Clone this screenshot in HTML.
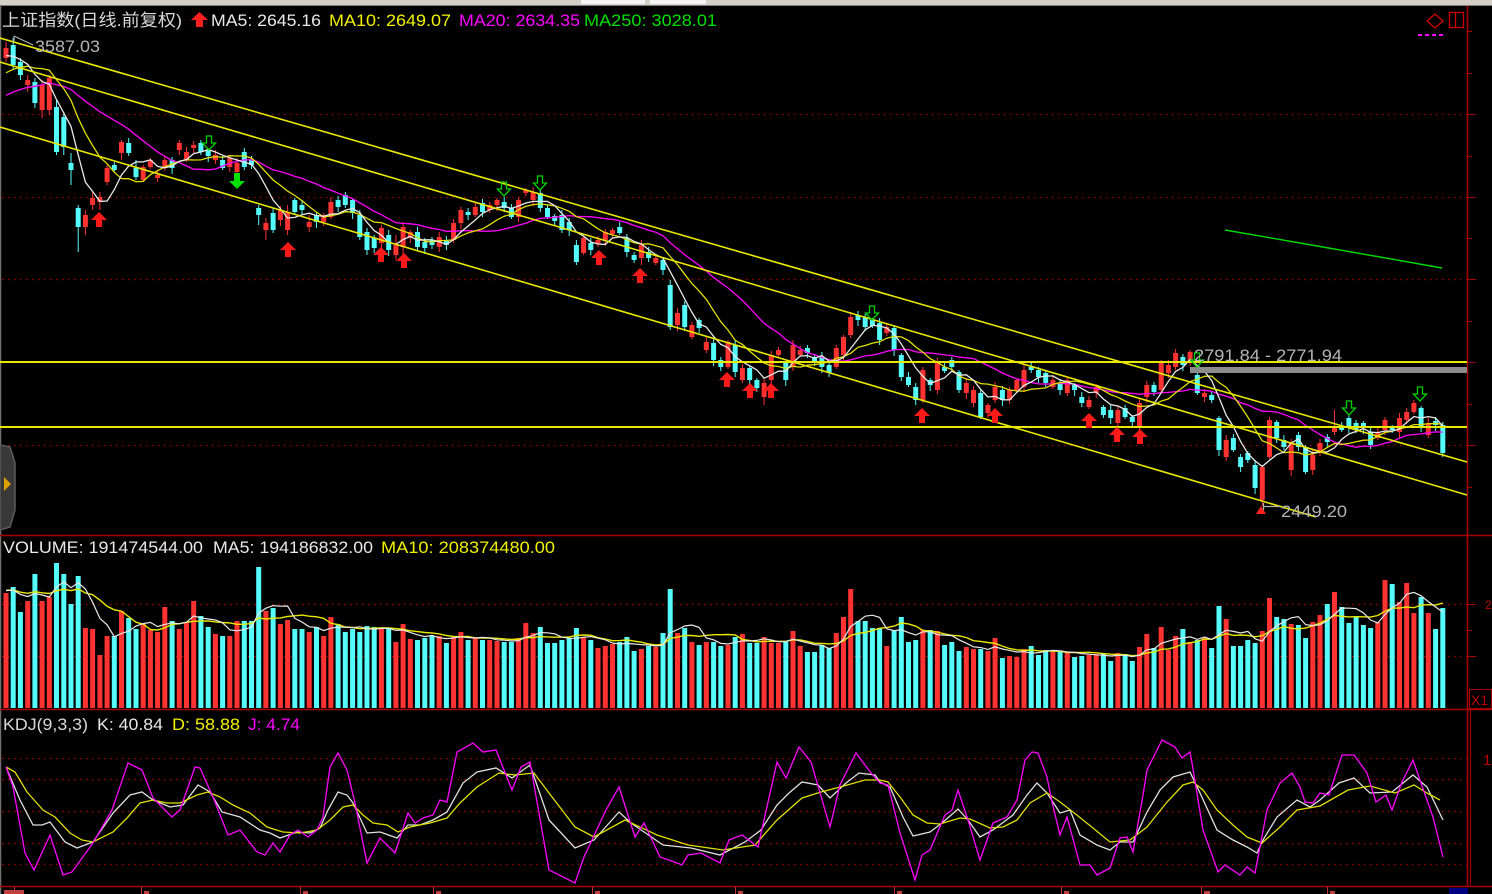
<!DOCTYPE html>
<html><head><meta charset="utf-8">
<style>
html,body{margin:0;padding:0;background:#000;width:1492px;height:894px;overflow:hidden}
svg{display:block}
text{font-family:"Liberation Sans","Noto Sans CJK SC",sans-serif;font-size:17px}
</style></head><body>
<svg id="s" width="1492" height="894" viewBox="0 0 1492 894" xmlns="http://www.w3.org/2000/svg">
<rect width="1492" height="894" fill="#000"/>
<!-- top strip -->
<rect x="0" y="0" width="1492" height="5" fill="#d4d0c8"/>
<rect x="581" y="0" width="64" height="4" fill="#f4f4f4"/>
<rect x="650" y="0" width="56" height="4" fill="#f4f4f4"/>
<line x1="0" y1="5.5" x2="1492" y2="5.5" stroke="#808080"/>
<line x1="0.5" y1="5" x2="0.5" y2="894" stroke="#707070" stroke-width="1.5"/>

<!-- dotted grid -->
<g stroke="#a00000" stroke-width="1.2" stroke-dasharray="1.5,4.5">
<line x1="2" y1="114.5" x2="1467" y2="114.5"/>
<line x1="2" y1="197.5" x2="1467" y2="197.5"/>
<line x1="2" y1="279.5" x2="1467" y2="279.5"/>
<line x1="2" y1="445.5" x2="1467" y2="445.5"/>
<line x1="2" y1="604.5" x2="1467" y2="604.5"/>
<line x1="2" y1="656.5" x2="1467" y2="656.5"/>
<line x1="2" y1="758.5" x2="1467" y2="758.5"/>
<line x1="2" y1="779.5" x2="1467" y2="779.5"/>
<line x1="2" y1="811.5" x2="1467" y2="811.5"/>
<line x1="2" y1="843.5" x2="1467" y2="843.5"/>
<line x1="2" y1="864.5" x2="1467" y2="864.5"/>
</g>

<!-- panel separators and axis -->
<g stroke="#a80000" stroke-width="1.6">
<line x1="0" y1="535.5" x2="1492" y2="535.5"/>
<line x1="0" y1="709.5" x2="1492" y2="709.5"/>
<line x1="0" y1="886.5" x2="1492" y2="886.5"/>
<line x1="1467.5" y1="6" x2="1467.5" y2="887"/>
</g>
<g stroke="#a80000" stroke-width="1">
<line x1="1467" y1="31.5" x2="1472" y2="31.5"/>
<line x1="1467" y1="73.5" x2="1472" y2="73.5"/>
<line x1="1467" y1="114.5" x2="1476" y2="114.5"/>
<line x1="1467" y1="156.5" x2="1472" y2="156.5"/>
<line x1="1467" y1="197.5" x2="1476" y2="197.5"/>
<line x1="1467" y1="238.5" x2="1472" y2="238.5"/>
<line x1="1467" y1="279.5" x2="1476" y2="279.5"/>
<line x1="1467" y1="321.5" x2="1472" y2="321.5"/>
<line x1="1467" y1="362.5" x2="1476" y2="362.5"/>
<line x1="1467" y1="404.5" x2="1472" y2="404.5"/>
<line x1="1467" y1="445.5" x2="1476" y2="445.5"/>
<line x1="1467" y1="487.5" x2="1472" y2="487.5"/>
<line x1="1467" y1="604.5" x2="1476" y2="604.5"/>
<line x1="1467" y1="630.5" x2="1472" y2="630.5"/>
<line x1="1467" y1="656.5" x2="1476" y2="656.5"/>
</g>
<!-- right widgets -->
<rect x="1469.5" y="689.5" width="22" height="19" fill="none" stroke="#a80000"/>
<text x="1471" y="705" fill="#c00000" style="font-size:14px">X1</text>
<line x1="1470.5" y1="710" x2="1470.5" y2="885" stroke="#a80000" stroke-width="1.2"/>
<text x="1483" y="765" fill="#c00000" style="font-size:15px">1</text>
<text x="1485" y="609" fill="#c00000" style="font-size:12px">2</text>
<rect x="1449" y="888" width="19" height="6" fill="#000080"/>

<!-- bottom ticks -->
<g stroke="#c03030" stroke-width="1">
<line x1="14.5" y1="887" x2="14.5" y2="894"/>
<line x1="141.5" y1="887" x2="141.5" y2="894"/>
<line x1="300.5" y1="887" x2="300.5" y2="894"/>
<line x1="433.5" y1="887" x2="433.5" y2="894"/>
<line x1="592.5" y1="887" x2="592.5" y2="894"/>
<line x1="735.5" y1="887" x2="735.5" y2="894"/>
<line x1="894.5" y1="887" x2="894.5" y2="894"/>
<line x1="1061.5" y1="887" x2="1061.5" y2="894"/>
<line x1="1201.5" y1="887" x2="1201.5" y2="894"/>
<line x1="1327.5" y1="887" x2="1327.5" y2="894"/>
</g>
<g fill="#c04040">
<rect x="4" y="890" width="20" height="4"/>
<rect x="144" y="891" width="5" height="3"/>
<rect x="303" y="891" width="5" height="3"/>
<rect x="436" y="891" width="5" height="3"/>
<rect x="595" y="891" width="5" height="3"/>
<rect x="738" y="891" width="5" height="3"/>
<rect x="897" y="891" width="5" height="3"/>
<rect x="1064" y="891" width="5" height="3"/>
<rect x="1204" y="891" width="6" height="3"/>
<rect x="1330" y="891" width="5" height="3"/>
</g>

<g id="vol"></g>
<g id="candles"></g>
<g id="mas"></g>

<!-- MA250 -->
<polyline points="1225,230 1300,243 1380,257 1442,268" fill="none" stroke="#00d800" stroke-width="1.4"/>

<!-- drawing lines -->
<g stroke="#e8e800" fill="none">
<line x1="0" y1="362" x2="1467" y2="362" stroke-width="2"/>
<line x1="0" y1="427" x2="1467" y2="427" stroke-width="2"/>
<line x1="0" y1="38" x2="1467" y2="462" stroke-width="1.6"/>
<line x1="0" y1="62" x2="1467" y2="495" stroke-width="1.6"/>
<line x1="0" y1="127" x2="1316" y2="517" stroke-width="1.6"/>
</g>
<rect x="1190" y="367" width="277" height="6" fill="#8c8c8c"/>

<g id="kdj"></g>
<g id="arrows"></g>

<!-- labels -->
<line x1="14" y1="36" x2="33" y2="45" stroke="#b0b0b0" stroke-width="1.2"/>
<line x1="14" y1="36" x2="14" y2="42" stroke="#b0b0b0" stroke-width="1.2"/>
<text x="35" y="52" fill="#b4b4b4" textLength="65" lengthAdjust="spacingAndGlyphs">3587.03</text>
<line x1="1263" y1="506.5" x2="1280" y2="506.5" stroke="#b0b0b0" stroke-width="1.2"/>
<line x1="1263.5" y1="503" x2="1263.5" y2="510" stroke="#b0b0b0" stroke-width="1.2"/>
<polygon points="1261,506 1266,514 1256,514" fill="#ff2020"/>
<text x="1281" y="517" fill="#b4b4b4" textLength="66" lengthAdjust="spacingAndGlyphs">2449.20</text>
<text x="1194" y="361" fill="#b4b4b4" textLength="148" lengthAdjust="spacingAndGlyphs">2791.84 - 2771.94</text>

<!-- header -->
<text x="2" y="26" fill="#d8d8d8" textLength="180" lengthAdjust="spacingAndGlyphs">上证指数(日线.前复权)</text>
<polygon fill="#ff2020" points="199.5,12 208,20 203,20 203,27 196,27 196,20 191,20"/>
<text x="211" y="26" fill="#e8e8e8" textLength="110" lengthAdjust="spacingAndGlyphs">MA5: 2645.16</text>
<text x="329" y="26" fill="#f0f000" textLength="122" lengthAdjust="spacingAndGlyphs">MA10: 2649.07</text>
<text x="459" y="26" fill="#ff00ff" textLength="121" lengthAdjust="spacingAndGlyphs">MA20: 2634.35</text>
<text x="584" y="26" fill="#00e000" textLength="133" lengthAdjust="spacingAndGlyphs">MA250: 3028.01</text>

<text x="3" y="553" fill="#e8e8e8" textLength="200" lengthAdjust="spacingAndGlyphs">VOLUME: 191474544.00</text>
<text x="213" y="553" fill="#e8e8e8" textLength="160" lengthAdjust="spacingAndGlyphs">MA5: 194186832.00</text>
<text x="381" y="553" fill="#f0f000" textLength="174" lengthAdjust="spacingAndGlyphs">MA10: 208374480.00</text>

<text x="3" y="730" fill="#d8d8d8" textLength="85" lengthAdjust="spacingAndGlyphs">KDJ(9,3,3)</text>
<text x="97" y="730" fill="#e8e8e8" textLength="66" lengthAdjust="spacingAndGlyphs">K: 40.84</text>
<text x="172" y="730" fill="#f0f000" textLength="68" lengthAdjust="spacingAndGlyphs">D: 58.88</text>
<text x="248" y="730" fill="#ff00ff" textLength="52" lengthAdjust="spacingAndGlyphs">J: 4.74</text>

<!-- top right icons -->
<polygon points="1435,14 1443,21 1435,28 1427,21" fill="none" stroke="#d00000" stroke-width="1.3"/>
<rect x="1449.5" y="12.5" width="14" height="15" fill="none" stroke="#d00000" stroke-width="1.3"/>
<line x1="1455.5" y1="12.5" x2="1455.5" y2="27.5" stroke="#d00000" stroke-width="1.3"/>
<line x1="1418" y1="35" x2="1446" y2="35" stroke="#ff00ff" stroke-width="2" stroke-dasharray="4,3"/>

<!-- left tab -->
<polygon points="0,445 10,447 15,463 15,510 10,527 0,530" fill="#383838" stroke="#5c5c5c" stroke-width="1.5"/>
<polygon points="4,477 11,484 4,491" fill="#e0a000"/>
</svg>
<script>
(function(){
var C=[
[48,58,'r',42,62],[45,65,'c',38,70],[62,75,'c',58,80],[80,85,'r',75,92],[82,103,'c',78,108],[85,110,'r',80,118],[78,110,'r',75,115],[107,152,'c',100,155],[117,147,'c',112,155],[163,170,'c',153,185],
[208,227,'c',205,252],[215,227,'r',210,235],[198,205,'r',192,210],[197,202,'r',192,210],[168,182,'r',165,185],[165,170,'c'],[142,153,'r',140,160],[143,153,'c'],[168,177,'c',160,180],[167,180,'r',165,182],
[160,167,'r'],[175,178,'r',170,182],[160,168,'r'],[160,168,'c'],[143,150,'r',140,155],[152,160,'r'],[145,148,'r'],[143,152,'c'],[150,156,'c'],[155,160,'r'],
[160,168,'c'],[158,167,'r'],[163,172,'r',158,180],[152,167,'c',148,170],[160,165,'c'],[208,215,'c',205,225],[223,230,'r',218,240],[213,230,'c'],[210,220,'r'],[212,230,'r',205,235],
[200,212,'c',198,215],[205,210,'c'],[222,227,'r',215,232],[215,222,'c'],[215,222,'r'],[202,217,'r'],[200,207,'c'],[195,205,'c'],[200,213,'c'],[215,237,'c',210,240],
[232,250,'c',228,255],[238,248,'c'],[228,243,'r',225,252],[235,250,'c'],[245,255,'r',235,260],[227,247,'r',222,255],[232,238,'r'],[232,247,'c'],[242,248,'c'],[240,245,'c'],
[237,247,'r',232,252],[241,245,'c'],[223,240,'r'],[210,223,'r'],[212,215,'c',208,220],[207,215,'r'],[203,212,'c'],[205,210,'r'],[200,205,'r'],[202,208,'c'],
[208,217,'c'],[200,217,'r'],[190,193,'r'],[192,200,'r'],[193,208,'c'],[208,217,'c'],[216,221,'c'],[215,230,'c'],[222,230,'c'],[245,262,'c',240,265],
[238,253,'r'],[243,250,'c'],[240,244,'r'],[232,240,'r'],[230,234,'r'],[227,233,'c'],[238,252,'c'],[255,260,'c'],[245,258,'r',240,265],[252,258,'c'],
[258,263,'r'],[260,270,'c'],[285,327,'c',280,330],[313,325,'r'],[305,327,'c'],[325,337,'r'],[320,328,'c'],[342,350,'r'],[343,360,'c'],[360,367,'c'],
[342,367,'r'],[345,372,'c'],[368,380,'r'],[368,380,'c'],[380,388,'c'],[383,397,'r',378,405],[355,380,'r'],[350,355,'r'],[363,380,'c'],[345,367,'r'],
[350,355,'r'],[348,353,'c'],[357,363,'c'],[357,367,'c'],[365,373,'c'],[348,367,'r'],[337,355,'r'],[317,335,'r'],[315,320,'c'],[317,327,'c'],
[320,326,'c'],[323,340,'c'],[327,333,'r'],[328,350,'c'],[355,377,'c'],[377,385,'c'],[387,400,'c'],[370,400,'r'],[380,385,'c'],[363,390,'r'],
[367,371,'c'],[360,367,'c'],[372,390,'c'],[383,393,'r'],[390,403,'r'],[393,417,'c'],[405,413,'r'],[387,400,'r'],[390,400,'c'],[390,400,'r'],
[380,390,'r'],[370,387,'r'],[367,370,'c'],[370,377,'c'],[373,383,'c'],[380,387,'r'],[383,390,'c'],[380,393,'r'],[385,390,'c'],[397,403,'c'],
[400,407,'r'],[387,393,'r'],[407,415,'c'],[410,418,'c'],[410,423,'r'],[408,417,'c'],[417,422,'c'],[403,427,'r'],[385,397,'r'],[385,392,'c'],
[362,390,'r'],[365,373,'r'],[353,367,'r'],[357,365,'c'],[352,362,'r'],[375,393,'c'],[393,397,'r'],[395,400,'c'],[418,450,'c'],[440,457,'r'],
[438,450,'c'],[457,467,'c'],[453,460,'c'],[465,488,'c'],[467,500,'r',465,506],[420,457,'r'],[422,438,'c'],[440,447,'c'],[443,470,'r'],[435,447,'c'],
[447,472,'c'],[455,470,'r'],[443,453,'r'],[437,442,'c'],[427,432,'r',410,435],[427,430,'c'],[418,428,'c'],[423,430,'c'],[423,428,'c'],[432,445,'c'],
[432,438,'r'],[420,430,'r'],[427,430,'c'],[418,432,'r'],[412,420,'r'],[403,412,'r'],[408,427,'c'],[423,435,'r'],[421,425,'c'],[425,453,'c']
];
var V=[593,587,612,601,574,601,597,563,574,604,576,628,629,655,636,636,611,618,629,624,
630,632,607,621,629,622,601,616,627,634,636,636,621,621,621,567,611,608,624,620,
629,629,632,627,636,617,624,632,629,632,626,627,628,629,642,624,639,640,638,636,
636,643,637,632,640,638,640,640,641,642,642,638,623,633,627,643,643,640,638,628,
637,640,648,646,644,642,637,651,649,646,647,633,589,633,628,642,645,642,642,646,
645,637,634,643,643,637,643,643,642,631,646,652,652,645,648,633,617,589,621,621,
628,628,646,630,617,642,640,630,630,631,645,642,651,647,649,649,651,638,658,656,
657,649,646,655,650,652,651,652,657,656,655,654,654,661,653,654,661,647,634,648,
627,650,636,629,642,640,638,648,606,619,646,646,640,643,631,598,617,619,624,625,
638,622,615,604,592,607,623,617,625,628,622,580,584,602,583,613,597,613,629,608];
function X(i){return 6+i*7.22;}
var RED='#ff3232',CY='#54fcfc';
var h='',vh='';
for(var i=0;i<C.length;i++){
 var c=C[i],x=X(i),col=c[2]=='r'?RED:CY;
 var wt=c.length>3?c[3]:c[0]-2-(i*7)%4, wb=c.length>4?c[4]:c[1]+2-0+(i*3)%5;
 h+='<line x1="'+x.toFixed(1)+'" y1="'+wt+'" x2="'+x.toFixed(1)+'" y2="'+wb+'" stroke="'+col+'" stroke-width="1"/>';
 var ht=Math.max(1.5,c[1]-c[0]);
 h+='<rect x="'+(x-2.5).toFixed(1)+'" y="'+c[0]+'" width="5" height="'+ht+'" fill="'+col+'"/>';
 vh+='<rect x="'+(x-2.5).toFixed(1)+'" y="'+V[i]+'" width="5" height="'+(708-V[i])+'" fill="'+col+'"/>';
}
document.getElementById('candles').innerHTML=h;
// volume MAs
var vhs=[];for(var k=0;k<10;k++)vhs.push(118);
for(var i=0;i<V.length;i++)vhs.push(708-V[i]);
function vma(n){var p=[];for(var i=0;i<V.length;i++){var j=i+10,s=0;for(var k=j-n+1;k<=j;k++)s+=vhs[k];p.push(X(i).toFixed(1)+','+(708-s/n).toFixed(1));}return p.join(' ');}
vh+='<polyline points="'+vma(10)+'" fill="none" stroke="#e8e800" stroke-width="1.4"/>';
vh+='<polyline points="'+vma(5)+'" fill="none" stroke="#e8e8e8" stroke-width="1.2"/>';
document.getElementById('vol').innerHTML=vh;
// price MAs
var pre=[130,127,124,121,118,115,113,112,110,108,100,95,90,85,80,62,58,56,54];
var cl=pre.slice();for(var i=0;i<C.length;i++)cl.push(C[i][2]=='r'?C[i][0]:C[i][1]);
function ma(n){var p=[];for(var i=0;i<C.length;i++){var j=i+pre.length,s=0;for(var k=j-n+1;k<=j;k++)s+=cl[k];p.push(X(i).toFixed(1)+','+(s/n).toFixed(1));}return p.join(' ');}
document.getElementById('mas').innerHTML=
 '<polyline points="'+ma(20)+'" fill="none" stroke="#ff00ff" stroke-width="1.3"/>'+
 '<polyline points="'+ma(10)+'" fill="none" stroke="#e0e000" stroke-width="1.3"/>'+
 '<polyline points="'+ma(5)+'" fill="none" stroke="#e8e8e8" stroke-width="1.3"/>';
// KDJ
var K="6,767 20,800 33,825 42,825 50,822 65,842 77,848 93,842 113,813 130,795 142,792 153,800 170,807 183,805 198,785 210,792 222,812 240,817 260,830 270,833 280,838 297,832 310,833 320,828 328,810 338,792 347,795 353,803 367,833 380,832 397,838 408,825 420,825 433,820 447,812 463,783 477,772 496,768 512,778 530,765 549,820 575,848 594,840 619,812 631,823 663,845 691,848 720,855 745,842 761,830 777,805 789,793 802,782 818,785 830,798 846,783 859,773 875,775 880,782 890,787 903,817 913,836 930,832 942,823 958,809 968,820 980,837 993,830 1013,815 1027,795 1037,783 1047,793 1060,813 1070,810 1080,835 1097,845 1110,850 1120,842 1133,842 1147,812 1160,790 1173,777 1190,772 1200,793 1217,830 1233,840 1247,847 1257,853 1263,840 1277,817 1297,800 1310,807 1320,800 1339,783 1354,778 1370,793 1392,792 1413,775 1427,787 1443,820";
var D="6,767 15,772 27,792 43,810 55,817 70,833 82,840 93,842 113,832 127,818 140,803 153,800 167,803 180,803 197,795 208,792 220,797 233,805 250,813 267,827 283,832 300,833 317,830 330,820 343,807 353,805 363,815 373,823 387,825 398,832 410,827 430,823 447,818 460,803 477,787 499,773 515,775 534,773 549,793 575,827 594,837 625,820 657,835 688,845 723,850 755,845 777,820 802,798 821,792 840,787 865,780 880,780 888,782 900,797 913,815 927,823 940,824 960,818 970,819 990,828 1003,827 1017,820 1030,803 1047,793 1060,802 1073,812 1093,828 1110,842 1130,840 1147,827 1167,802 1183,785 1193,782 1203,790 1217,810 1233,825 1247,837 1262,843 1280,827 1297,810 1320,806 1348,790 1370,786 1395,793 1414,785 1427,793 1440,800";
var J="6,767 13,787 25,853 34,870 50,835 63,875 72,872 93,843 112,810 128,763 142,770 153,798 172,817 180,810 195,767 200,768 213,797 228,835 240,830 257,852 265,855 273,843 280,852 290,835 298,830 308,837 317,830 323,817 330,767 338,753 347,770 355,803 367,863 380,838 395,853 408,813 415,823 423,818 433,815 440,800 447,802 457,752 473,743 483,752 496,750 512,790 521,767 530,762 549,870 575,883 584,857 606,810 619,787 635,837 644,823 660,857 669,860 682,865 688,855 701,853 720,863 729,840 742,835 758,847 777,762 786,778 799,747 811,762 830,827 840,785 856,753 871,773 880,783 888,785 900,833 915,880 922,855 930,850 945,815 952,810 958,790 968,820 980,860 993,823 1007,817 1017,800 1025,760 1032,752 1038,753 1047,777 1052,802 1060,835 1067,817 1080,865 1090,865 1097,875 1110,868 1120,838 1127,837 1133,852 1143,795 1147,770 1162,740 1175,747 1182,758 1190,752 1192,763 1203,830 1218,872 1225,865 1240,875 1247,867 1255,873 1267,810 1280,783 1292,773 1300,787 1305,802 1313,803 1320,793 1329,795 1342,755 1354,755 1367,773 1376,802 1386,795 1392,810 1402,782 1413,760 1421,783 1433,817 1443,857";
document.getElementById('kdj').innerHTML=
 '<polyline points="'+K+'" fill="none" stroke="#e0e0e0" stroke-width="1.3"/>'+
 '<polyline points="'+D+'" fill="none" stroke="#e0e000" stroke-width="1.3"/>'+
 '<polyline points="'+J+'" fill="none" stroke="#ff00ff" stroke-width="1.3"/>';
// arrows
var a='';
function up(cx,t){return '<polygon fill="#ff1a1a" points="'+cx+','+t+' '+(cx+8)+','+(t+8)+' '+(cx+3)+','+(t+8)+' '+(cx+3)+','+(t+15)+' '+(cx-3)+','+(t+15)+' '+(cx-3)+','+(t+8)+' '+(cx-8)+','+(t+8)+'"/>';}
function dn(cx,t,fill){var p=(cx-2.5)+','+t+' '+(cx+2.5)+','+t+' '+(cx+2.5)+','+(t+7)+' '+(cx+6.5)+','+(t+7)+' '+cx+','+(t+14)+' '+(cx-6.5)+','+(t+7)+' '+(cx-2.5)+','+(t+7);
 return fill?'<polygon fill="#00e000" points="'+(cx-3)+','+t+' '+(cx+3)+','+t+' '+(cx+3)+','+(t+8)+' '+(cx+8)+','+(t+8)+' '+cx+','+(t+16)+' '+(cx-8)+','+(t+8)+' '+(cx-3)+','+(t+8)+'"/>'
 :'<polygon fill="none" stroke="#00d000" stroke-width="1.3" points="'+p+'"/>';}
[[99,212],[288,242],[381,247],[404,253],[599,250],[640,268],[727,372],[750,383],[771,383],[922,408],[995,408],[1089,413],[1117,427],[1140,429]].forEach(function(q){a+=up(q[0],q[1]);});
[[209,136],[504,182],[540,176],[872,306],[1197,353],[1349,401],[1420,387]].forEach(function(q){a+=dn(q[0],q[1],false);});
a+=dn(237,173,true);
document.getElementById('arrows').innerHTML=a;
})();
</script>
</body></html>
